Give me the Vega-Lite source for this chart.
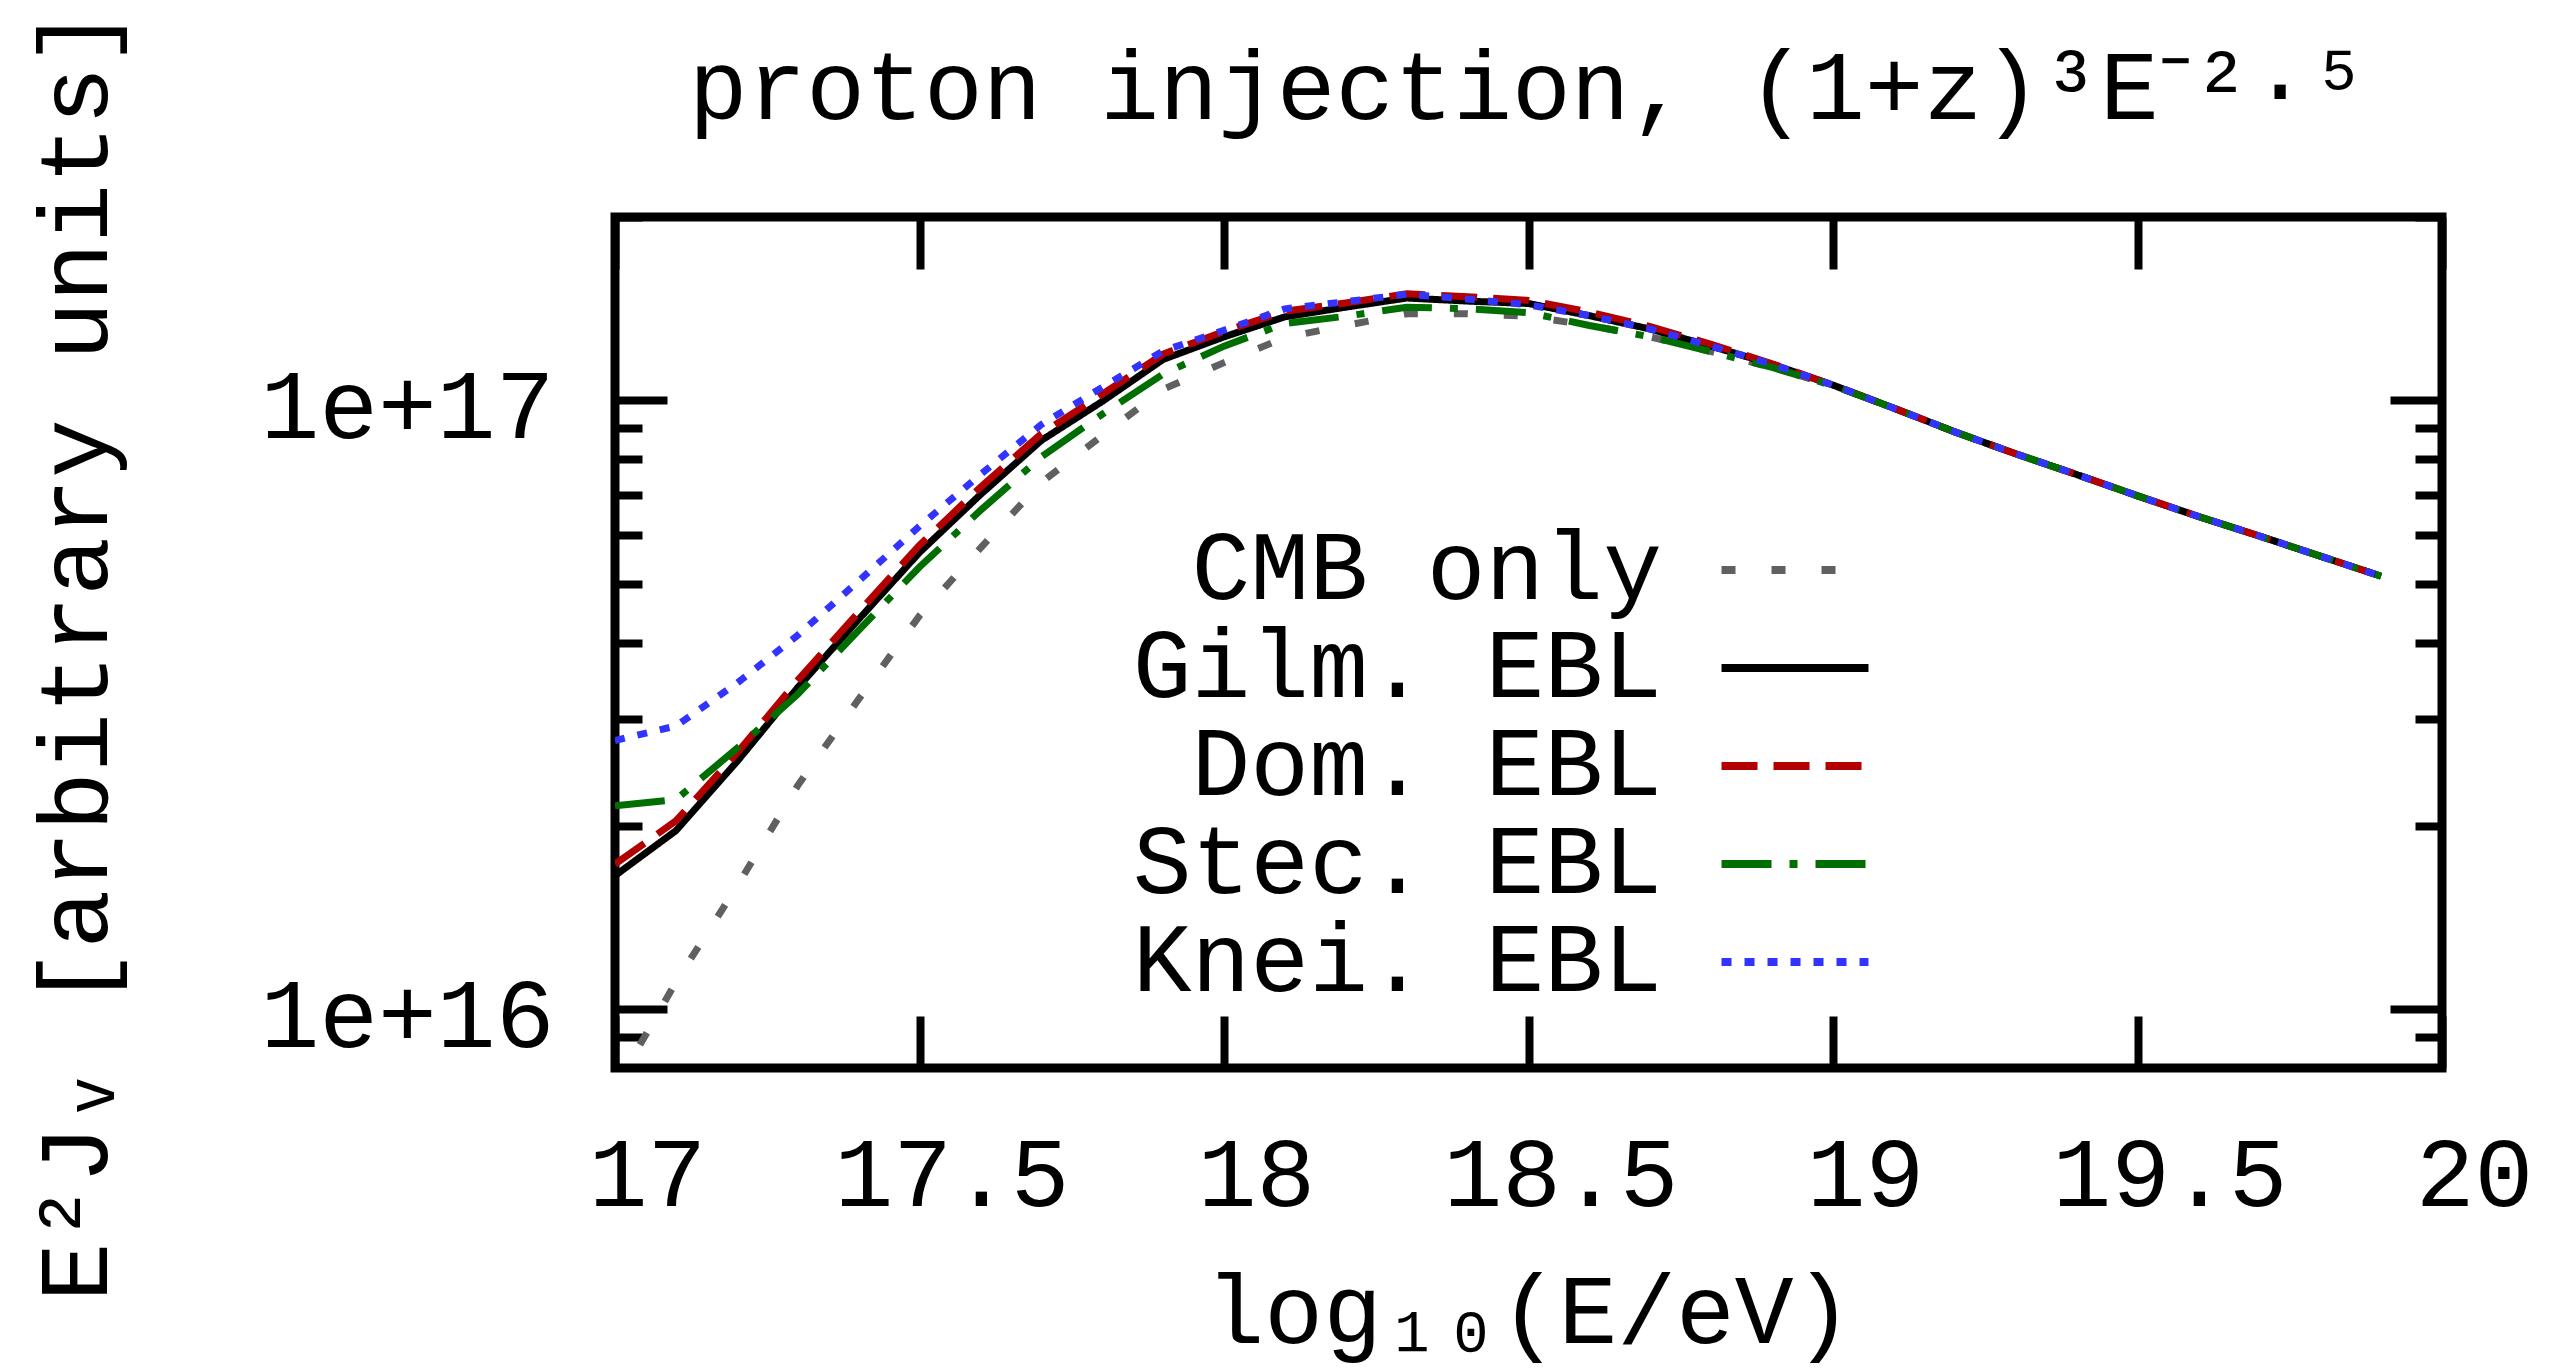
{
  "$schema": "https://vega.github.io/schema/vega-lite/v6.json",
  "width": 1827,
  "height": 851,
  "autosize": {"type": "none"},
  "padding": {"left": 615, "top": 217, "right": 111, "bottom": 304},
  "background": "white",
  "title": {"text": "proton injection, (1+z)³E⁻²·⁵", "font": "Liberation Mono", "fontSize": 98, "fontWeight": "normal", "color": "black", "anchor": "middle", "frame": "group", "offset": -210, "baseline": "alphabetic"},
  "data": {"values": [
    {"logE":17.0,"flux":7.413e15,"model":"CMB only"},{"logE":17.1,"flux":1.107e16,"model":"CMB only"},{"logE":17.2,"flux":1.589e16,"model":"CMB only"},{"logE":17.3,"flux":2.328e16,"model":"CMB only"},{"logE":17.4,"flux":3.228e16,"model":"CMB only"},{"logE":17.5,"flux":4.426e16,"model":"CMB only"},{"logE":17.6,"flux":5.715e16,"model":"CMB only"},{"logE":17.7,"flux":7.328e16,"model":"CMB only"},{"logE":17.8,"flux":8.750e16,"model":"CMB only"},{"logE":17.9,"flux":1.042e17,"model":"CMB only"},{"logE":18.0,"flux":1.153e17,"model":"CMB only"},{"logE":18.1,"flux":1.268e17,"model":"CMB only"},{"logE":18.2,"flux":1.327e17,"model":"CMB only"},{"logE":18.3,"flux":1.387e17,"model":"CMB only"},{"logE":18.4,"flux":1.387e17,"model":"CMB only"},{"logE":18.5,"flux":1.374e17,"model":"CMB only"},{"logE":18.6,"flux":1.327e17,"model":"CMB only"},{"logE":18.7,"flux":1.271e17,"model":"CMB only"},{"logE":18.8,"flux":1.202e17,"model":"CMB only"},{"logE":18.9,"flux":1.132e17,"model":"CMB only"},{"logE":19.0,"flux":1.057e17,"model":"CMB only"},{"logE":19.1,"flux":9.705e16,"model":"CMB only"},{"logE":19.2,"flux":8.872e16,"model":"CMB only"},{"logE":19.3,"flux":8.166e16,"model":"CMB only"},{"logE":19.4,"flux":7.551e16,"model":"CMB only"},{"logE":19.5,"flux":6.966e16,"model":"CMB only"},{"logE":19.6,"flux":6.442e16,"model":"CMB only"},{"logE":19.7,"flux":5.984e16,"model":"CMB only"},{"logE":19.8,"flux":5.546e16,"model":"CMB only"},{"logE":19.9,"flux":5.140e16,"model":"CMB only"},
    {"logE":17.0,"flux":1.656e16,"model":"Gilm. EBL"},{"logE":17.1,"flux":1.963e16,"model":"Gilm. EBL"},{"logE":17.2,"flux":2.547e16,"model":"Gilm. EBL"},{"logE":17.3,"flux":3.373e16,"model":"Gilm. EBL"},{"logE":17.4,"flux":4.365e16,"model":"Gilm. EBL"},{"logE":17.5,"flux":5.623e16,"model":"Gilm. EBL"},{"logE":17.6,"flux":6.998e16,"model":"Gilm. EBL"},{"logE":17.7,"flux":8.590e16,"model":"Gilm. EBL"},{"logE":17.8,"flux":9.954e16,"model":"Gilm. EBL"},{"logE":17.9,"flux":1.167e17,"model":"Gilm. EBL"},{"logE":18.0,"flux":1.271e17,"model":"Gilm. EBL"},{"logE":18.1,"flux":1.371e17,"model":"Gilm. EBL"},{"logE":18.2,"flux":1.422e17,"model":"Gilm. EBL"},{"logE":18.3,"flux":1.472e17,"model":"Gilm. EBL"},{"logE":18.4,"flux":1.455e17,"model":"Gilm. EBL"},{"logE":18.5,"flux":1.442e17,"model":"Gilm. EBL"},{"logE":18.6,"flux":1.377e17,"model":"Gilm. EBL"},{"logE":18.7,"flux":1.309e17,"model":"Gilm. EBL"},{"logE":18.8,"flux":1.227e17,"model":"Gilm. EBL"},{"logE":18.9,"flux":1.146e17,"model":"Gilm. EBL"},{"logE":19.0,"flux":1.059e17,"model":"Gilm. EBL"},{"logE":19.1,"flux":9.705e16,"model":"Gilm. EBL"},{"logE":19.2,"flux":8.872e16,"model":"Gilm. EBL"},{"logE":19.3,"flux":8.166e16,"model":"Gilm. EBL"},{"logE":19.4,"flux":7.551e16,"model":"Gilm. EBL"},{"logE":19.5,"flux":6.966e16,"model":"Gilm. EBL"},{"logE":19.6,"flux":6.442e16,"model":"Gilm. EBL"},{"logE":19.7,"flux":5.984e16,"model":"Gilm. EBL"},{"logE":19.8,"flux":5.546e16,"model":"Gilm. EBL"},{"logE":19.9,"flux":5.140e16,"model":"Gilm. EBL"},
    {"logE":17.0,"flux":1.730e16,"model":"Dom. EBL"},{"logE":17.1,"flux":2.037e16,"model":"Dom. EBL"},{"logE":17.2,"flux":2.630e16,"model":"Dom. EBL"},{"logE":17.3,"flux":3.467e16,"model":"Dom. EBL"},{"logE":17.4,"flux":4.487e16,"model":"Dom. EBL"},{"logE":17.5,"flux":5.781e16,"model":"Dom. EBL"},{"logE":17.6,"flux":7.194e16,"model":"Dom. EBL"},{"logE":17.7,"flux":8.810e16,"model":"Dom. EBL"},{"logE":17.8,"flux":1.023e17,"model":"Dom. EBL"},{"logE":17.9,"flux":1.191e17,"model":"Dom. EBL"},{"logE":18.0,"flux":1.297e17,"model":"Dom. EBL"},{"logE":18.1,"flux":1.400e17,"model":"Dom. EBL"},{"logE":18.2,"flux":1.445e17,"model":"Dom. EBL"},{"logE":18.3,"flux":1.496e17,"model":"Dom. EBL"},{"logE":18.4,"flux":1.479e17,"model":"Dom. EBL"},{"logE":18.5,"flux":1.459e17,"model":"Dom. EBL"},{"logE":18.6,"flux":1.396e17,"model":"Dom. EBL"},{"logE":18.7,"flux":1.321e17,"model":"Dom. EBL"},{"logE":18.8,"flux":1.236e17,"model":"Dom. EBL"},{"logE":18.9,"flux":1.148e17,"model":"Dom. EBL"},{"logE":19.0,"flux":1.059e17,"model":"Dom. EBL"},{"logE":19.1,"flux":9.705e16,"model":"Dom. EBL"},{"logE":19.2,"flux":8.872e16,"model":"Dom. EBL"},{"logE":19.3,"flux":8.166e16,"model":"Dom. EBL"},{"logE":19.4,"flux":7.551e16,"model":"Dom. EBL"},{"logE":19.5,"flux":6.966e16,"model":"Dom. EBL"},{"logE":19.6,"flux":6.442e16,"model":"Dom. EBL"},{"logE":19.7,"flux":5.984e16,"model":"Dom. EBL"},{"logE":19.8,"flux":5.546e16,"model":"Dom. EBL"},{"logE":19.9,"flux":5.140e16,"model":"Dom. EBL"},
    {"logE":17.0,"flux":2.158e16,"model":"Stec. EBL"},{"logE":17.1,"flux":2.208e16,"model":"Stec. EBL"},{"logE":17.2,"flux":2.679e16,"model":"Stec. EBL"},{"logE":17.3,"flux":3.289e16,"model":"Stec. EBL"},{"logE":17.4,"flux":4.188e16,"model":"Stec. EBL"},{"logE":17.5,"flux":5.321e16,"model":"Stec. EBL"},{"logE":17.6,"flux":6.592e16,"model":"Stec. EBL"},{"logE":17.7,"flux":8.072e16,"model":"Stec. EBL"},{"logE":17.8,"flux":9.484e16,"model":"Stec. EBL"},{"logE":17.9,"flux":1.104e17,"model":"Stec. EBL"},{"logE":18.0,"flux":1.227e17,"model":"Stec. EBL"},{"logE":18.1,"flux":1.337e17,"model":"Stec. EBL"},{"logE":18.2,"flux":1.374e17,"model":"Stec. EBL"},{"logE":18.3,"flux":1.422e17,"model":"Stec. EBL"},{"logE":18.4,"flux":1.413e17,"model":"Stec. EBL"},{"logE":18.5,"flux":1.393e17,"model":"Stec. EBL"},{"logE":18.6,"flux":1.327e17,"model":"Stec. EBL"},{"logE":18.7,"flux":1.271e17,"model":"Stec. EBL"},{"logE":18.8,"flux":1.202e17,"model":"Stec. EBL"},{"logE":18.9,"flux":1.132e17,"model":"Stec. EBL"},{"logE":19.0,"flux":1.057e17,"model":"Stec. EBL"},{"logE":19.1,"flux":9.705e16,"model":"Stec. EBL"},{"logE":19.2,"flux":8.872e16,"model":"Stec. EBL"},{"logE":19.3,"flux":8.166e16,"model":"Stec. EBL"},{"logE":19.4,"flux":7.551e16,"model":"Stec. EBL"},{"logE":19.5,"flux":6.966e16,"model":"Stec. EBL"},{"logE":19.6,"flux":6.442e16,"model":"Stec. EBL"},{"logE":19.7,"flux":5.984e16,"model":"Stec. EBL"},{"logE":19.8,"flux":5.546e16,"model":"Stec. EBL"},{"logE":19.9,"flux":5.140e16,"model":"Stec. EBL"},
    {"logE":17.0,"flux":2.761e16,"model":"Knei. EBL"},{"logE":17.1,"flux":2.917e16,"model":"Knei. EBL"},{"logE":17.2,"flux":3.428e16,"model":"Knei. EBL"},{"logE":17.3,"flux":4.111e16,"model":"Knei. EBL"},{"logE":17.4,"flux":5.047e16,"model":"Knei. EBL"},{"logE":17.5,"flux":6.209e16,"model":"Knei. EBL"},{"logE":17.6,"flux":7.551e16,"model":"Knei. EBL"},{"logE":17.7,"flux":9.120e16,"model":"Knei. EBL"},{"logE":17.8,"flux":1.050e17,"model":"Knei. EBL"},{"logE":17.9,"flux":1.205e17,"model":"Knei. EBL"},{"logE":18.0,"flux":1.303e17,"model":"Knei. EBL"},{"logE":18.1,"flux":1.413e17,"model":"Knei. EBL"},{"logE":18.2,"flux":1.452e17,"model":"Knei. EBL"},{"logE":18.3,"flux":1.493e17,"model":"Knei. EBL"},{"logE":18.4,"flux":1.466e17,"model":"Knei. EBL"},{"logE":18.5,"flux":1.435e17,"model":"Knei. EBL"},{"logE":18.6,"flux":1.377e17,"model":"Knei. EBL"},{"logE":18.7,"flux":1.309e17,"model":"Knei. EBL"},{"logE":18.8,"flux":1.227e17,"model":"Knei. EBL"},{"logE":18.9,"flux":1.146e17,"model":"Knei. EBL"},{"logE":19.0,"flux":1.059e17,"model":"Knei. EBL"},{"logE":19.1,"flux":9.705e16,"model":"Knei. EBL"},{"logE":19.2,"flux":8.872e16,"model":"Knei. EBL"},{"logE":19.3,"flux":8.166e16,"model":"Knei. EBL"},{"logE":19.4,"flux":7.551e16,"model":"Knei. EBL"},{"logE":19.5,"flux":6.966e16,"model":"Knei. EBL"},{"logE":19.6,"flux":6.442e16,"model":"Knei. EBL"},{"logE":19.7,"flux":5.984e16,"model":"Knei. EBL"},{"logE":19.8,"flux":5.546e16,"model":"Knei. EBL"},{"logE":19.9,"flux":5.140e16,"model":"Knei. EBL"}
  ]},
  "layer": [
    {
      "mark": {"type": "line", "clip": true, "strokeCap": "butt", "strokeJoin": "miter", "strokeWidth": 7},
      "encoding": {
        "x": {"field": "logE", "type": "quantitative", "scale": {"domain": [17, 20], "nice": false, "zero": false},
              "axis": {"orient": "bottom", "values": [17, 17.5, 18, 18.5, 19, 19.5, 20], "format": "~g", "tickSize": -52, "labelPadding": 112, "labelOffset": 32, "title": "log₁₀(E/eV)", "titlePadding": 40}},
        "y": {"field": "flux", "type": "quantitative", "scale": {"type": "log", "domain": [8e15, 2e17], "nice": false},
              "axis": {"orient": "left", "values": [9e15, 1e16, 2e16, 3e16, 4e16, 5e16, 6e16, 7e16, 8e16, 9e16, 1e17, 2e17],
                       "tickSize": {"condition": {"test": "datum.value === 1e16 || datum.value === 1e17", "value": -52}, "value": -27},
                       "labelExpr": "datum.value === 1e16 ? '1e+16' : (datum.value === 1e17 ? '1e+17' : '')",
                       "labelPadding": 113, "labelOffset": 8, "title": "E²Jᵥ [arbitrary units]", "titlePadding": 288, "titleY": 437}},
        "color": {"field": "model", "type": "nominal",
                  "scale": {"domain": ["CMB only", "Gilm. EBL", "Dom. EBL", "Stec. EBL", "Knei. EBL"], "range": ["#606060", "#000000", "#b30000", "#006e00", "#3333ff"]},
                  "legend": {"orient": "none", "legendX": 1131, "legendY": 304, "title": null, "symbolType": "M-1.633,0H1.633", "symbolSize": 8100, "symbolStrokeWidth": 8, "labelAlign": "right", "labelOffset": -182, "labelBaseline": "middle", "labelFont": "Liberation Mono", "labelFontSize": 98, "labelColor": "black", "labelLimit": 2000, "rowPadding": 0, "padding": 0}},
        "strokeDash": {"field": "model", "type": "nominal",
                  "scale": {"domain": ["CMB only", "Gilm. EBL", "Dom. EBL", "Stec. EBL", "Knei. EBL"], "range": [[14, 36], [1, 0], [36, 16], [50, 18, 8, 18], [10, 13]]},
                  "legend": {"orient": "none", "legendX": 1131, "legendY": 304, "title": null, "symbolType": "M-1.633,0H1.633", "symbolSize": 8100, "symbolStrokeWidth": 8, "labelAlign": "right", "labelOffset": -182, "labelBaseline": "middle", "labelFont": "Liberation Mono", "labelFontSize": 98, "labelColor": "black", "labelLimit": 2000, "rowPadding": 0, "padding": 0}},
        "strokeWidth": {"condition": {"test": "datum.model === 'CMB only'", "value": 3.5}, "value": 7}
      }
    },
    {
      "mark": {"type": "point", "opacity": 0},
      "encoding": {
        "x": {"field": "logE", "type": "quantitative", "scale": {"domain": [17, 20], "nice": false, "zero": false},
              "axis": {"orient": "top", "values": [17, 17.5, 18, 18.5, 19, 19.5, 20], "tickSize": -52, "labels": false, "title": null}},
        "y": {"field": "flux", "type": "quantitative", "scale": {"type": "log", "domain": [8e15, 2e17], "nice": false},
              "axis": {"orient": "right", "values": [9e15, 1e16, 2e16, 3e16, 4e16, 5e16, 6e16, 7e16, 8e16, 9e16, 1e17, 2e17],
                       "tickSize": {"condition": {"test": "datum.value === 1e16 || datum.value === 1e17", "value": -52}, "value": -27},
                       "labels": false, "title": null}}
      }
    }
  ],
  "resolve": {"axis": {"x": "independent", "y": "independent"}},
  "config": {
    "view": {"stroke": "black", "strokeWidth": 9},
    "axis": {"domain": false, "grid": false, "tickColor": "black", "tickWidth": 8, "labelFont": "Liberation Mono", "labelFontSize": 98, "labelColor": "black", "labelLimit": 2000, "titleFont": "Liberation Mono", "titleFontSize": 98, "titleFontWeight": "normal", "titleColor": "black", "labelFlush": false, "labelOverlap": false, "labelBound": false}
  }
}
